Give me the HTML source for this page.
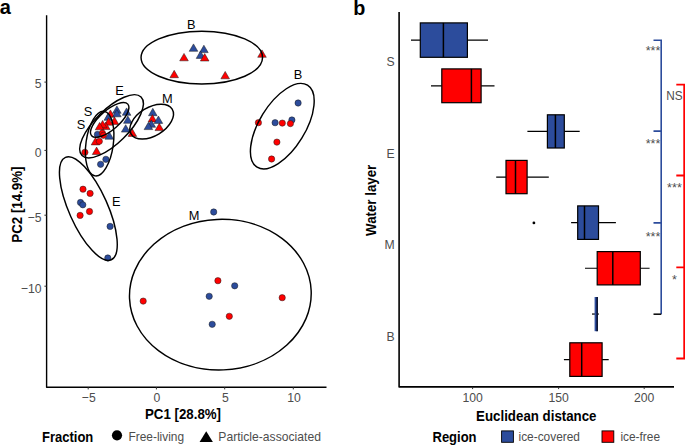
<!DOCTYPE html>
<html><head><meta charset="utf-8"><style>
html,body{margin:0;padding:0;background:#fff;}
body{width:685px;height:445px;overflow:hidden;}
svg{display:block;font-family:"Liberation Sans", sans-serif;}
</style></head><body>
<svg width="685" height="445" viewBox="0 0 685 445">
<rect width="685" height="445" fill="#fff"/>
<text transform="translate(-0.20 13.80) scale(1 1.03)" font-size="20.0" text-anchor="start" font-weight="bold" fill="#000" >a</text>
<path d="M46.6 15.3V387.2H326.5" fill="none" stroke="#000" stroke-width="1.4" stroke-linejoin="round"/>
<path d="M44.4 82.1H46.6" stroke="#333" stroke-width="1"/>
<text transform="translate(41.60 88.40) scale(1 1.07)" font-size="12.2" text-anchor="end" font-weight="normal" fill="#4D4D4D" >5</text>
<path d="M44.4 150.4H46.6" stroke="#333" stroke-width="1"/>
<text transform="translate(41.60 156.70) scale(1 1.07)" font-size="12.2" text-anchor="end" font-weight="normal" fill="#4D4D4D" >0</text>
<path d="M44.4 215.2H46.6" stroke="#333" stroke-width="1"/>
<text transform="translate(41.60 221.50) scale(1 1.07)" font-size="12.2" text-anchor="end" font-weight="normal" fill="#4D4D4D" >−5</text>
<path d="M44.4 286.2H46.6" stroke="#333" stroke-width="1"/>
<text transform="translate(41.60 292.50) scale(1 1.07)" font-size="12.2" text-anchor="end" font-weight="normal" fill="#4D4D4D" >−10</text>
<path d="M88.2 387.2V389.4" stroke="#333" stroke-width="1"/>
<text transform="translate(88.80 402.00) scale(1 1.07)" font-size="12.2" text-anchor="middle" font-weight="normal" fill="#4D4D4D" >−5</text>
<path d="M156.4 387.2V389.4" stroke="#333" stroke-width="1"/>
<text transform="translate(157.00 402.00) scale(1 1.07)" font-size="12.2" text-anchor="middle" font-weight="normal" fill="#4D4D4D" >0</text>
<path d="M224.7 387.2V389.4" stroke="#333" stroke-width="1"/>
<text transform="translate(225.30 402.00) scale(1 1.07)" font-size="12.2" text-anchor="middle" font-weight="normal" fill="#4D4D4D" >5</text>
<path d="M293.3 387.2V389.4" stroke="#333" stroke-width="1"/>
<text transform="translate(293.90 402.00) scale(1 1.07)" font-size="12.2" text-anchor="middle" font-weight="normal" fill="#4D4D4D" >10</text>
<text transform="translate(183.00 419.40) scale(1 1.07)" font-size="13.3" text-anchor="middle" font-weight="bold" fill="#000" >PC1 [28.8%]</text>
<text transform="translate(21.6 204.6) rotate(-90) scale(1 1.07)" font-size="13.3" text-anchor="middle" font-weight="bold" fill="#000">PC2 [14.9%]</text>
<path d="M193.50 43.90L197.80 51.30L189.20 51.30Z" fill="#2C4C9C" stroke="#1a1a1a" stroke-width="0.5" stroke-linejoin="miter"/>
<path d="M203.90 45.20L208.20 52.60L199.60 52.60Z" fill="#2C4C9C" stroke="#1a1a1a" stroke-width="0.5" stroke-linejoin="miter"/>
<path d="M200.50 51.00L204.80 58.40L196.20 58.40Z" fill="#2C4C9C" stroke="#1a1a1a" stroke-width="0.5" stroke-linejoin="miter"/>
<path d="M204.70 53.60L209.00 61.00L200.40 61.00Z" fill="#FF0000" stroke="#1a1a1a" stroke-width="0.5" stroke-linejoin="miter"/>
<path d="M184.00 53.40L188.30 60.80L179.70 60.80Z" fill="#FF0000" stroke="#1a1a1a" stroke-width="0.5" stroke-linejoin="miter"/>
<path d="M262.00 49.90L266.30 57.30L257.70 57.30Z" fill="#FF0000" stroke="#1a1a1a" stroke-width="0.5" stroke-linejoin="miter"/>
<path d="M174.20 70.30L178.50 77.70L169.90 77.70Z" fill="#FF0000" stroke="#1a1a1a" stroke-width="0.5" stroke-linejoin="miter"/>
<path d="M225.20 71.40L229.50 78.80L220.90 78.80Z" fill="#FF0000" stroke="#1a1a1a" stroke-width="0.5" stroke-linejoin="miter"/>
<circle cx="298.10" cy="103.00" r="3.15" fill="#2C4C9C" stroke="#1a1a1a" stroke-width="0.5"/>
<circle cx="258.40" cy="122.70" r="3.15" fill="#FF0000" stroke="#1a1a1a" stroke-width="0.5"/>
<circle cx="275.10" cy="122.70" r="3.15" fill="#2C4C9C" stroke="#1a1a1a" stroke-width="0.5"/>
<circle cx="291.90" cy="120.00" r="3.15" fill="#2C4C9C" stroke="#1a1a1a" stroke-width="0.5"/>
<circle cx="282.30" cy="123.10" r="3.15" fill="#FF0000" stroke="#1a1a1a" stroke-width="0.5"/>
<circle cx="290.40" cy="123.60" r="3.15" fill="#FF0000" stroke="#1a1a1a" stroke-width="0.5"/>
<circle cx="276.90" cy="142.10" r="3.15" fill="#FF0000" stroke="#1a1a1a" stroke-width="0.5"/>
<circle cx="271.60" cy="159.00" r="3.15" fill="#FF0000" stroke="#1a1a1a" stroke-width="0.5"/>
<circle cx="213.70" cy="212.00" r="3.15" fill="#2C4C9C" stroke="#1a1a1a" stroke-width="0.5"/>
<circle cx="217.90" cy="280.70" r="3.15" fill="#FF0000" stroke="#1a1a1a" stroke-width="0.5"/>
<circle cx="234.70" cy="285.80" r="3.15" fill="#2C4C9C" stroke="#1a1a1a" stroke-width="0.5"/>
<circle cx="209.20" cy="296.30" r="3.15" fill="#2C4C9C" stroke="#1a1a1a" stroke-width="0.5"/>
<circle cx="282.20" cy="297.70" r="3.15" fill="#FF0000" stroke="#1a1a1a" stroke-width="0.5"/>
<circle cx="229.30" cy="316.30" r="3.15" fill="#FF0000" stroke="#1a1a1a" stroke-width="0.5"/>
<circle cx="212.20" cy="324.30" r="3.15" fill="#2C4C9C" stroke="#1a1a1a" stroke-width="0.5"/>
<circle cx="143.20" cy="301.10" r="3.15" fill="#FF0000" stroke="#1a1a1a" stroke-width="0.5"/>
<circle cx="83.00" cy="189.20" r="3.15" fill="#FF0000" stroke="#1a1a1a" stroke-width="0.5"/>
<circle cx="90.10" cy="193.40" r="3.15" fill="#FF0000" stroke="#1a1a1a" stroke-width="0.5"/>
<circle cx="80.50" cy="202.50" r="3.15" fill="#2C4C9C" stroke="#1a1a1a" stroke-width="0.5"/>
<circle cx="82.80" cy="204.80" r="3.15" fill="#2C4C9C" stroke="#1a1a1a" stroke-width="0.5"/>
<circle cx="89.50" cy="211.50" r="3.15" fill="#FF0000" stroke="#1a1a1a" stroke-width="0.5"/>
<circle cx="80.10" cy="215.40" r="3.15" fill="#FF0000" stroke="#1a1a1a" stroke-width="0.5"/>
<circle cx="110.10" cy="226.40" r="3.15" fill="#2C4C9C" stroke="#1a1a1a" stroke-width="0.5"/>
<circle cx="107.80" cy="258.00" r="3.15" fill="#2C4C9C" stroke="#1a1a1a" stroke-width="0.5"/>
<path d="M152.80 108.30L157.10 115.70L148.50 115.70Z" fill="#2C4C9C" stroke="#1a1a1a" stroke-width="0.5" stroke-linejoin="miter"/>
<path d="M152.40 114.50L156.70 121.90L148.10 121.90Z" fill="#FF0000" stroke="#1a1a1a" stroke-width="0.5" stroke-linejoin="miter"/>
<path d="M158.40 116.00L162.70 123.40L154.10 123.40Z" fill="#2C4C9C" stroke="#1a1a1a" stroke-width="0.5" stroke-linejoin="miter"/>
<path d="M151.30 119.90L155.60 127.30L147.00 127.30Z" fill="#2C4C9C" stroke="#1a1a1a" stroke-width="0.5" stroke-linejoin="miter"/>
<path d="M148.40 122.20L152.70 129.60L144.10 129.60Z" fill="#2C4C9C" stroke="#1a1a1a" stroke-width="0.5" stroke-linejoin="miter"/>
<path d="M159.30 123.20L163.60 130.60L155.00 130.60Z" fill="#FF0000" stroke="#1a1a1a" stroke-width="0.5" stroke-linejoin="miter"/>
<path d="M110.40 109.90L114.70 117.30L106.10 117.30Z" fill="#FF0000" stroke="#1a1a1a" stroke-width="0.5" stroke-linejoin="miter"/>
<path d="M114.50 117.00L118.80 124.40L110.20 124.40Z" fill="#FF0000" stroke="#1a1a1a" stroke-width="0.5" stroke-linejoin="miter"/>
<path d="M132.40 129.00L136.70 136.40L128.10 136.40Z" fill="#FF0000" stroke="#1a1a1a" stroke-width="0.5" stroke-linejoin="miter"/>
<path d="M116.90 105.90L121.20 113.30L112.60 113.30Z" fill="#2C4C9C" stroke="#1a1a1a" stroke-width="0.5" stroke-linejoin="miter"/>
<path d="M116.90 109.40L121.20 116.80L112.60 116.80Z" fill="#2C4C9C" stroke="#1a1a1a" stroke-width="0.5" stroke-linejoin="miter"/>
<path d="M126.60 107.90L130.90 115.30L122.30 115.30Z" fill="#2C4C9C" stroke="#1a1a1a" stroke-width="0.5" stroke-linejoin="miter"/>
<path d="M127.80 115.90L132.10 123.30L123.50 123.30Z" fill="#2C4C9C" stroke="#1a1a1a" stroke-width="0.5" stroke-linejoin="miter"/>
<path d="M125.70 124.70L130.00 132.10L121.40 132.10Z" fill="#2C4C9C" stroke="#1a1a1a" stroke-width="0.5" stroke-linejoin="miter"/>
<path d="M108.30 112.90L112.60 120.30L104.00 120.30Z" fill="#2C4C9C" stroke="#1a1a1a" stroke-width="0.5" stroke-linejoin="miter"/>
<path d="M109.30 131.80L113.60 139.20L105.00 139.20Z" fill="#2C4C9C" stroke="#1a1a1a" stroke-width="0.5" stroke-linejoin="miter"/>
<path d="M108.60 117.80L112.90 125.20L104.30 125.20Z" fill="#FF0000" stroke="#1a1a1a" stroke-width="0.5" stroke-linejoin="miter"/>
<path d="M105.80 122.20L110.10 129.60L101.50 129.60Z" fill="#FF0000" stroke="#1a1a1a" stroke-width="0.5" stroke-linejoin="miter"/>
<path d="M102.60 120.40L106.90 127.80L98.30 127.80Z" fill="#FF0000" stroke="#1a1a1a" stroke-width="0.5" stroke-linejoin="miter"/>
<path d="M99.60 122.40L103.90 129.80L95.30 129.80Z" fill="#FF0000" stroke="#1a1a1a" stroke-width="0.5" stroke-linejoin="miter"/>
<circle cx="97.40" cy="134.50" r="3.15" fill="#2C4C9C" stroke="#1a1a1a" stroke-width="0.5"/>
<circle cx="102.40" cy="133.20" r="3.15" fill="#FF0000" stroke="#1a1a1a" stroke-width="0.5"/>
<circle cx="103.40" cy="135.30" r="3.15" fill="#FF0000" stroke="#1a1a1a" stroke-width="0.5"/>
<path d="M95.50 137.50L99.80 144.90L91.20 144.90Z" fill="#FF0000" stroke="#1a1a1a" stroke-width="0.5" stroke-linejoin="miter"/>
<circle cx="99.30" cy="141.30" r="3.15" fill="#FF0000" stroke="#1a1a1a" stroke-width="0.5"/>
<path d="M96.60 147.10L100.90 154.50L92.30 154.50Z" fill="#FF0000" stroke="#1a1a1a" stroke-width="0.5" stroke-linejoin="miter"/>
<circle cx="84.90" cy="152.30" r="3.15" fill="#FF0000" stroke="#1a1a1a" stroke-width="0.5"/>
<circle cx="105.90" cy="159.30" r="3.15" fill="#2C4C9C" stroke="#1a1a1a" stroke-width="0.5"/>
<circle cx="100.60" cy="164.30" r="3.15" fill="#2C4C9C" stroke="#1a1a1a" stroke-width="0.5"/>
<ellipse cx="201.80" cy="57.60" rx="60.75" ry="26.40" transform="rotate(0.00 201.80 57.60)" fill="none" stroke="#000" stroke-width="1.45"/>
<ellipse cx="282.30" cy="126.20" rx="48.10" ry="22.90" transform="rotate(-58.40 282.30 126.20)" fill="none" stroke="#000" stroke-width="1.45"/>
<ellipse cx="220.35" cy="294.65" rx="90.90" ry="75.30" transform="rotate(-2.50 220.35 294.65)" fill="none" stroke="#000" stroke-width="1.45"/>
<ellipse cx="88.35" cy="208.55" rx="56.10" ry="19.30" transform="rotate(65.90 88.35 208.55)" fill="none" stroke="#000" stroke-width="1.45"/>
<ellipse cx="111.55" cy="126.33" rx="41.55" ry="16.80" transform="rotate(-44.73 111.55 126.33)" fill="none" stroke="#000" stroke-width="1.45"/>
<ellipse cx="151.67" cy="121.62" rx="24.00" ry="14.23" transform="rotate(-31.30 151.67 121.62)" fill="none" stroke="#000" stroke-width="1.45"/>
<ellipse cx="109.71" cy="119.92" rx="24.03" ry="9.68" transform="rotate(-41.11 109.71 119.92)" fill="none" stroke="#000" stroke-width="1.45"/>
<ellipse cx="99.64" cy="143.63" rx="32.55" ry="13.65" transform="rotate(-81.99 99.64 143.63)" fill="none" stroke="#000" stroke-width="1.45"/>
<text transform="translate(191.30 28.60) scale(1 1.07)" font-size="12.8" text-anchor="middle" font-weight="normal" fill="#000" >B</text>
<text transform="translate(298.10 79.00) scale(1 1.07)" font-size="12.8" text-anchor="middle" font-weight="normal" fill="#000" >B</text>
<text transform="translate(194.20 219.60) scale(1 1.07)" font-size="12.8" text-anchor="middle" font-weight="normal" fill="#000" >M</text>
<text transform="translate(116.30 205.80) scale(1 1.07)" font-size="12.8" text-anchor="middle" font-weight="normal" fill="#000" >E</text>
<text transform="translate(119.50 94.50) scale(1 1.07)" font-size="12.8" text-anchor="middle" font-weight="normal" fill="#000" >E</text>
<text transform="translate(167.40 102.60) scale(1 1.07)" font-size="12.8" text-anchor="middle" font-weight="normal" fill="#000" >M</text>
<text transform="translate(88.10 116.40) scale(1 1.07)" font-size="12.8" text-anchor="middle" font-weight="normal" fill="#000" >S</text>
<text transform="translate(81.00 129.30) scale(1 1.07)" font-size="12.8" text-anchor="middle" font-weight="normal" fill="#000" >S</text>
<text transform="translate(353.20 14.80) scale(1 1.03)" font-size="19.8" text-anchor="start" font-weight="bold" fill="#000" >b</text>
<path d="M399.1 12.1V386.9H674" fill="none" stroke="#000" stroke-width="1.6" stroke-linejoin="round"/>
<path d="M472.6 386.9V389.09999999999997" stroke="#333" stroke-width="1"/>
<text transform="translate(472.60 402.40) scale(1 1.07)" font-size="12.2" text-anchor="middle" font-weight="normal" fill="#4D4D4D" >100</text>
<path d="M558.6 386.9V389.09999999999997" stroke="#333" stroke-width="1"/>
<text transform="translate(558.60 402.40) scale(1 1.07)" font-size="12.2" text-anchor="middle" font-weight="normal" fill="#4D4D4D" >150</text>
<path d="M644.2 386.9V389.09999999999997" stroke="#333" stroke-width="1"/>
<text transform="translate(644.20 402.40) scale(1 1.07)" font-size="12.2" text-anchor="middle" font-weight="normal" fill="#4D4D4D" >200</text>
<text transform="translate(394.60 66.40) scale(1 1.07)" font-size="12.2" text-anchor="end" font-weight="normal" fill="#4D4D4D" >S</text>
<text transform="translate(394.60 158.00) scale(1 1.07)" font-size="12.2" text-anchor="end" font-weight="normal" fill="#4D4D4D" >E</text>
<text transform="translate(394.60 249.30) scale(1 1.07)" font-size="12.2" text-anchor="end" font-weight="normal" fill="#4D4D4D" >M</text>
<text transform="translate(394.60 340.90) scale(1 1.07)" font-size="12.2" text-anchor="end" font-weight="normal" fill="#4D4D4D" >B</text>
<text transform="translate(536.30 420.80) scale(1 1.07)" font-size="13.3" text-anchor="middle" font-weight="bold" fill="#000" >Euclidean distance</text>
<text transform="translate(376.0 200.3) rotate(-90) scale(1 1.07)" font-size="13.3" text-anchor="middle" font-weight="bold" fill="#000">Water layer</text>
<path d="M411.0 40.10H420.3M467.4 40.10H488.0" stroke="#000" stroke-width="1.2"/>
<rect x="420.3" y="22.9" width="47.10" height="34.40" fill="#2C4C9C" stroke="#000" stroke-width="1.2"/>
<path d="M443.4 22.9V57.3" stroke="#000" stroke-width="1.5"/>
<path d="M431.0 85.80H441.8M481.1 85.80H494.5" stroke="#000" stroke-width="1.2"/>
<rect x="441.8" y="68.9" width="39.30" height="33.80" fill="#FF0000" stroke="#000" stroke-width="1.2"/>
<path d="M471.4 68.9V102.7" stroke="#000" stroke-width="1.5"/>
<path d="M527.4 131.40H547.4M564.3 131.40H579.7" stroke="#000" stroke-width="1.2"/>
<rect x="547.4" y="114.8" width="16.90" height="33.20" fill="#2C4C9C" stroke="#000" stroke-width="1.2"/>
<path d="M555.4 114.8V148.0" stroke="#000" stroke-width="1.5"/>
<path d="M496.2 177.05H506.0M527.1 177.05H548.8" stroke="#000" stroke-width="1.2"/>
<rect x="506.0" y="160.4" width="21.10" height="33.30" fill="#FF0000" stroke="#000" stroke-width="1.2"/>
<path d="M515.5 160.4V193.7" stroke="#000" stroke-width="1.5"/>
<path d="M571.1 222.65H577.7M598.5 222.65H615.9" stroke="#000" stroke-width="1.2"/>
<rect x="577.7" y="205.9" width="20.80" height="33.50" fill="#2C4C9C" stroke="#000" stroke-width="1.2"/>
<path d="M584.5 205.9V239.4" stroke="#000" stroke-width="1.5"/>
<path d="M585.0 268.25H597.2M640.3 268.25H649.6" stroke="#000" stroke-width="1.2"/>
<rect x="597.2" y="251.6" width="43.10" height="33.30" fill="#FF0000" stroke="#000" stroke-width="1.2"/>
<path d="M612.8 251.6V284.9" stroke="#000" stroke-width="1.5"/>
<path d="M592.0 314.05H598.9" stroke="#000" stroke-width="1.2"/>
<rect x="594.6" y="297.0" width="3.3" height="34.2" fill="#2C4C9C"/>
<path d="M596.6 297.0V331.2" stroke="#16265a" stroke-width="1.0"/>
<path d="M597.4 297.0V331.2" stroke="#0c1226" stroke-width="1.0"/>
<path d="M563.9 359.60H569.8M602.1 359.60H608.7" stroke="#000" stroke-width="1.2"/>
<rect x="569.8" y="342.8" width="32.30" height="33.60" fill="#FF0000" stroke="#000" stroke-width="1.2"/>
<path d="M581.7 342.8V376.4" stroke="#000" stroke-width="1.5"/>
<circle cx="533.9" cy="222.9" r="1.4" fill="#000"/>
<path d="M653.5 40.2H661.2V314.2" fill="none" stroke="#2C4C9C" stroke-width="1.6"/>
<path d="M653.5 131.1H661.2M653.5 222.9H661.2" fill="none" stroke="#2C4C9C" stroke-width="1.6"/>
<path d="M653.5 314.2H661.2" fill="none" stroke="#111" stroke-width="1.6"/>
<path d="M676.3 84.6H684.2V358.5H676.3M676.3 175.5H684.2M676.3 267.3H684.2" fill="none" stroke="#FF0000" stroke-width="1.8"/>
<text transform="translate(660.40 54.90) scale(1 1.07)" font-size="12.6" text-anchor="end" font-weight="normal" fill="#4D4D4D" >***</text>
<text transform="translate(660.40 147.90) scale(1 1.07)" font-size="12.6" text-anchor="end" font-weight="normal" fill="#4D4D4D" >***</text>
<text transform="translate(660.40 240.50) scale(1 1.07)" font-size="12.6" text-anchor="end" font-weight="normal" fill="#4D4D4D" >***</text>
<text transform="translate(681.80 191.60) scale(1 1.07)" font-size="12.6" text-anchor="end" font-weight="normal" fill="#4D4D4D" >***</text>
<text transform="translate(676.90 283.60) scale(1 1.07)" font-size="12.6" text-anchor="end" font-weight="normal" fill="#4D4D4D" >*</text>
<text transform="translate(674.50 99.80) scale(1 1.07)" font-size="11.8" text-anchor="middle" font-weight="normal" fill="#4D4D4D" >NS</text>
<text transform="translate(42.00 441.80) scale(1 1.07)" font-size="13.0" text-anchor="start" font-weight="bold" fill="#000" >Fraction</text>
<circle cx="117.0" cy="435.3" r="5.1" fill="#000"/>
<text transform="translate(128.50 440.60) scale(1 1.07)" font-size="11.9" text-anchor="start" font-weight="normal" fill="#4D4D4D" >Free-living</text>
<path d="M206.2 431.2L212.9 441.9H199.6Z" fill="#000"/>
<text transform="translate(218.30 441.00) scale(1 1.07)" font-size="12.15" text-anchor="start" font-weight="normal" fill="#4D4D4D" >Particle-associated</text>
<text transform="translate(432.50 442.30) scale(1 1.07)" font-size="13.0" text-anchor="start" font-weight="bold" fill="#000" >Region</text>
<rect x="501.6" y="430.9" width="11.8" height="11.4" fill="#2C4C9C" stroke="#000" stroke-width="0.9"/>
<text transform="translate(518.50 441.00) scale(1 1.07)" font-size="11.9" text-anchor="start" font-weight="normal" fill="#4D4D4D" >ice-covered</text>
<rect x="602.0" y="430.9" width="11.8" height="11.4" fill="#FF0000" stroke="#000" stroke-width="0.9"/>
<text transform="translate(620.40 441.00) scale(1 1.07)" font-size="11.9" text-anchor="start" font-weight="normal" fill="#4D4D4D" >ice-free</text>
</svg>
</body></html>
